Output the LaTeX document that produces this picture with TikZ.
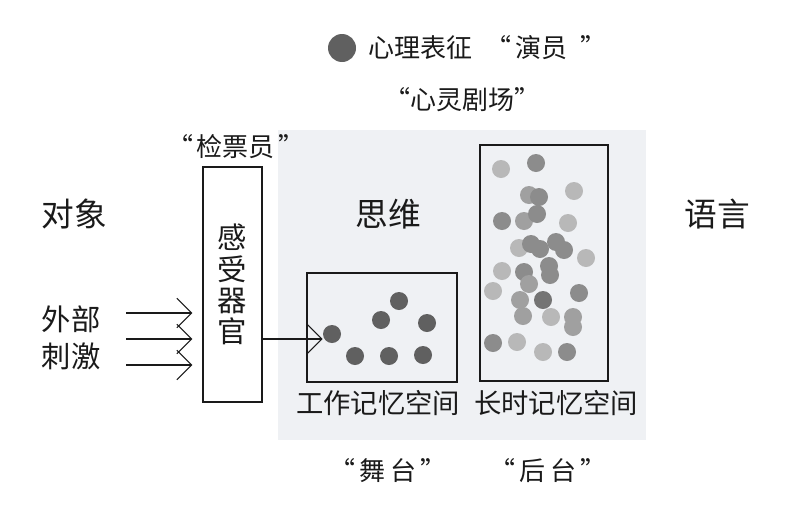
\documentclass[tikz,border=0pt]{standalone}
\usepackage{fontspec}
\newfontfamily\cjk{Noto Sans CJK SC}
\usetikzlibrary{arrows.meta}
\definecolor{stage-bg}{HTML}{EFF1F4}
\definecolor{ink}{HTML}{1A1A1A}
\definecolor{actor}{HTML}{606060}
\definecolor{mem-light}{HTML}{B8B8B8}
\definecolor{mem-mid}{HTML}{A0A0A0}
\definecolor{mem-dark}{HTML}{8C8C8C}
\definecolor{mem-deep}{HTML}{747474}

\begin{document}
\begin{tikzpicture}[x=0.75pt, y=-0.75pt,
    every node/.style={font=\cjk, text=ink},
    bigword/.style={font=\cjk\fontsize{24.5}{28}\selectfont},
    quoteword/.style={font=\cjk\fontsize{19.5}{23}\selectfont},
    spaceword/.style={font=\cjk\fontsize{20.5}{24}\selectfont},
    membox/.style={draw=ink, line width=1.1pt, inner sep=0pt},
    dot/.style={circle, inner sep=0pt, minimum size=13.5pt},
    stim/.style={draw=ink, line width=0.8pt,
      -{Straight Barb[length=11pt, width=22pt]}}]
  \useasboundingbox (0,0) rectangle (802,507);
  % grey stage behind thinking
  \fill[stage-bg] (278,130) rectangle (646,440);
  % legend and titles
  \node[dot, minimum size=21pt, fill=actor] (legend) at (342,48) {};
  \node[quoteword, anchor=west] (actors) at (364,48)
    {心理表征\hspace{0.5em}“\hspace{0.15em}演员\hspace{0.5em}”};
  \node[quoteword] (theatre) at (462,100) {“心灵剧场”};
  \node[quoteword] (checker) at (236,147)
    {“\hspace{0.1em}检票员\hspace{0.15em}”};
  % big words
  \node[bigword] (object) at (74,214) {对象};
  \node[bigword] (think) at (388,214) {思维};
  \node[bigword] (speech) at (717,214) {语言};
  \node[font=\cjk\fontsize{22}{27.5}\selectfont, align=center] (outside) at (71,338) {外部\\刺激};
  % sensory organ
  \node[membox, minimum width=44.25pt, minimum height=176.25pt, align=center,
        font=\cjk\fontsize{22}{23.5}\selectfont] (sense) at (232.5,284.5) {感\\受\\器\\官};
  % stimulus arrows
  \coordinate (in1) at (126,313);
  \coordinate (in2) at (126,339);
  \coordinate (in3) at (126,365);
  \draw[stim, shorten >=7.5pt] (in1) -- (in1 -| sense.west);
  \draw[stim, shorten >=7.5pt] (in2) -- (in2 -| sense.west);
  \draw[stim, shorten >=7.5pt] (in3) -- (in3 -| sense.west);
  % working memory
  \node[membox, minimum width=112.5pt, minimum height=81.75pt] (wm) at (382,327.5) {};
  \node[spaceword] (wmlabel) at (378,403) {工作记忆空间};
  \foreach \x/\y [count=\i] in {332/334, 399/301, 381/320, 427/323, 355/356, 389/356, 423/355}
    \node[dot, fill=actor] (wm\i) at (\x,\y) {};
  \draw[stim] (sense.east |- in2) -- (in2 -| wm1.west);
  % long-term memory
  \node[membox, minimum width=96pt, minimum height=177pt] (ltm) at (544,263) {};
  \node[spaceword] (ltmlabel) at (556,403) {长时记忆空间};
  \foreach \x/\y/\c [count=\i] in {
      501/169/mem-light, 536/163/mem-dark, 529/195/mem-mid, 539/197/mem-dark,
      574/191/mem-light, 502/221/mem-dark, 524/221/mem-mid, 537/214/mem-dark,
      568/223/mem-light, 519/248/mem-light, 531/244/mem-dark, 540/249/mem-dark,
      556/242/mem-dark, 564/250/mem-dark, 586/258/mem-light, 502/271/mem-light,
      524/272/mem-dark, 529/284/mem-mid, 549/266/mem-dark, 550/275/mem-dark,
      493/291/mem-light, 520/300/mem-mid, 543/300/mem-deep, 579/293/mem-dark,
      523/316/mem-mid, 551/317/mem-light, 573/317/mem-mid, 573/327/mem-mid,
      493/343/mem-dark, 517/342/mem-light, 543/352/mem-light, 567/352/mem-dark}
    \node[dot, fill=\c] (lt\i) at (\x,\y) {};
  % stage names
  \node[quoteword] (stage) at (388,471) {“\hspace{0.15em}舞\hspace{0.2em}台\hspace{0.15em}”};
  \node[quoteword] (backstage) at (548,471) {“\hspace{0.15em}后\hspace{0.2em}台\hspace{0.15em}”};
\end{tikzpicture}
\end{document}
